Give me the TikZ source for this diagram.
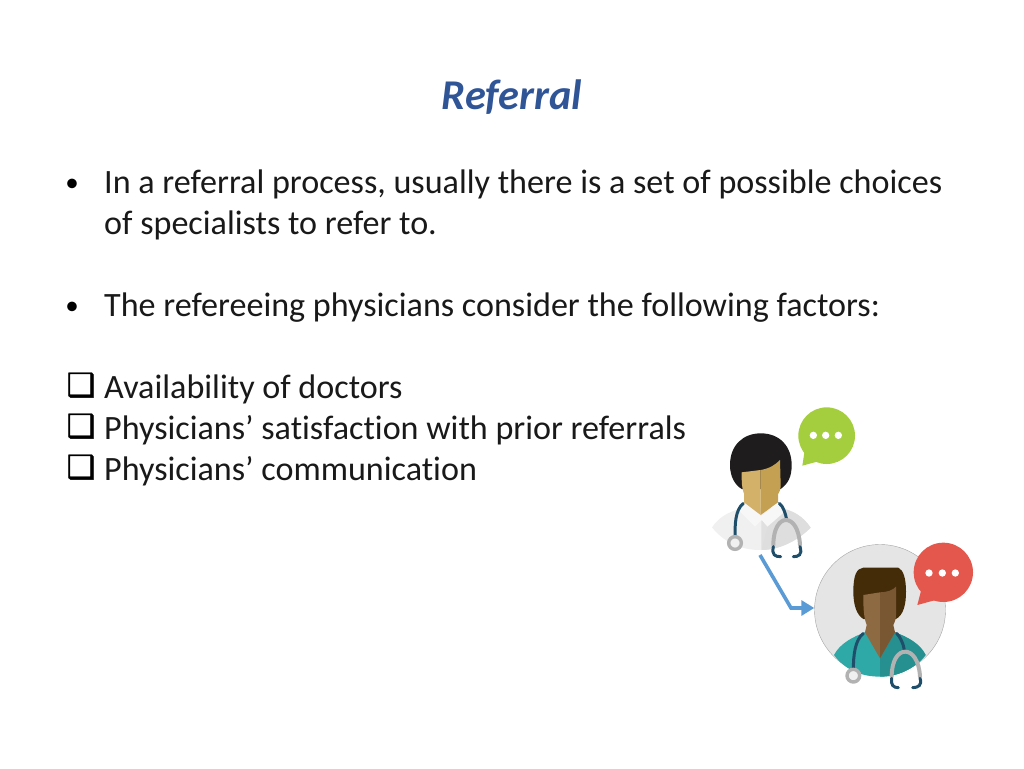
\documentclass[tikz,border=0pt]{standalone}
\usepackage{fontspec}
\setmainfont[Ligatures=NoCommon]{Carlito}
\newfontfamily\symfont[FakeBold=1.2]{DejaVu Sans}
\usetikzlibrary{positioning, arrows.meta}
\definecolor{titleblue}{HTML}{2F5597}
\definecolor{linkblue}{HTML}{5B9BD5}
\definecolor{tubeblue}{HTML}{1F4E6B}
\definecolor{bubblegreen}{HTML}{A4CE3E}
\definecolor{bubblered}{HTML}{E4574D}
\definecolor{hairdark}{HTML}{1E1C1D}
\definecolor{hairbrown}{HTML}{452C08}
\definecolor{skinlight}{HTML}{D3B169}
\definecolor{skinshade}{HTML}{C4A053}
\definecolor{skinbrown}{HTML}{8E6A42}
\definecolor{skinbrowndark}{HTML}{7A5733}
\definecolor{scrubs}{HTML}{2FA8A8}
\definecolor{scrubsdark}{HTML}{25908F}
\newcommand{\bodysize}{\fontsize{34.1}{41}\selectfont}
\tikzset{
	textline/.style={anchor=base west, inner sep=0pt, font=\bodysize, text=black!90},
	listmark/.style={anchor=base, inner sep=0pt},
	bubbledot/.style={fill=white, draw=none},
	tube/.style={draw=tubeblue, line width=3pt, line cap=round},
	metal/.style={draw=black!30, line width=4pt, line cap=round},
	ring/.style={draw=black!30, fill=black!6, line width=3.4pt}
}
\begin{document}
\begin{tikzpicture}[x=1pt, y=-1pt]
	\useasboundingbox (0,0) rectangle (1024,768);
	\node[anchor=base, inner sep=0pt, font=\fontsize{42.4}{48}\selectfont\bfseries\itshape, text=titleblue] (title) at (512,109) {Referral};
	\node[textline] (p1) at (104,193) {In a referral process, usually there is a set of possible choices};
	\node[textline] (p1b) at (104,234) {of specialists to refer to.};
	\node[textline] (p2) at (104,316) {The refereeing physicians consider the following factors:};
	\node[textline] (f1) at (104,398) {Availability of doctors};
	\node[textline] (f2) at (104,439) {Physicians’ satisfaction with prior referrals};
	\node[textline] (f3) at (104,480) {Physicians’ communication};
	\foreach \name/\ypos in {p1/193,p2/316}
		\node[listmark, font=\fontsize{27}{27}\selectfont] (b\name) at (72,\ypos-2) {•};
	\foreach \name/\ypos in {f1/398,f2/439,f3/480}
		\node[listmark, font=\symfont\fontsize{32}{32}\selectfont] (c\name) at (81,\ypos-2) {❑};
	% first doctor
	\begin{scope}[shift={(690,395)}, scale=1/3]
		\fill[black!6] (66,397) .. controls (90,360) and (130,345) .. (165,338) -- (265,338) .. controls (310,345) and (340,365) .. (362,398) .. controls (320,440) and (265,465) .. (210,465) .. controls (150,465) and (100,440) .. (66,397) -- cycle;
		\fill[black!13] (215,362) -- (265,338) .. controls (310,345) and (340,365) .. (362,398) .. controls (320,440) and (265,465) .. (215,465) -- cycle;
		\fill[black!3] (165,325) -- (215,362) -- (265,325) -- (290,345) -- (232,395) -- (215,375) -- (195,395) -- (145,345) -- cycle;
		\fill[black!12] (215,378) -- (232,395) -- (215,465) -- cycle;
		\draw[tube] (160,325) .. controls (135,345) and (135,390) .. (135,425);
		\draw[tube] (268,325) .. controls (280,335) and (287,355) .. (290,375);
		\draw[ring] (135,444) circle (19);
		\draw[metal] (250,450) .. controls (250,350) and (325,350) .. (330,450);
		\draw[tube] (250,455) .. controls (245,480) and (255,485) .. (272,485);
		\draw[tube] (330,455) .. controls (338,480) and (325,485) .. (310,485);
		\fill[hairdark] (120,210) .. controls (120,150) and (160,115) .. (212,115) .. controls (270,115) and (305,155) .. (305,210) .. controls (305,245) and (295,265) .. (272,282) -- (155,282) .. controls (135,270) and (120,245) .. (120,210) -- cycle;
		\fill[skinlight] (155,232) -- (212,225) -- (212,360) -- (162,322) -- (162,296) .. controls (155,280) and (155,260) .. (155,232) -- cycle;
		\fill[skinshade] (212,225) .. controls (240,220) and (255,210) .. (270,195) -- (272,270) .. controls (272,285) and (268,292) .. (264,298) -- (264,322) -- (212,360) -- cycle;
	\end{scope}
	% second doctor
	\node[circle, draw=black!35, fill=black!10, minimum size=131pt, inner sep=0pt] (disc) at (880,610) {};
	\begin{scope}[shift={(690,395)}, scale=1/3]
		\fill[scrubs] (432,780) .. controls (450,745) and (490,725) .. (525,712) -- (615,712) .. controls (650,725) and (690,745) .. (707,780) .. controls (670,825) and (620,845) .. (570,845) .. controls (515,845) and (465,825) .. (432,780) -- cycle;
		\fill[scrubsdark] (570,790) -- (615,712) .. controls (650,725) and (690,745) .. (707,780) .. controls (670,825) and (620,845) .. (570,845) -- cycle;
		\draw[tube] (520,715) .. controls (495,735) and (490,780) .. (490,825);
		\draw[tube] (620,715) .. controls (630,725) and (640,745) .. (643,765);
		\draw[ring] (490,842) circle (19);
		\draw[metal] (605,845) .. controls (605,745) and (685,745) .. (690,845);
		\draw[tube] (605,850) .. controls (602,870) and (610,878) .. (625,878);
		\draw[tube] (690,850) .. controls (697,870) and (685,878) .. (668,878);
		\fill[hairbrown] (490,590) .. controls (490,540) and (500,520) .. (520,518) -- (625,518) .. controls (640,525) and (648,550) .. (648,590) .. controls (648,630) and (640,660) .. (618,672) -- (520,672) .. controls (500,660) and (490,630) .. (490,590) -- cycle;
		\fill[skinbrown] (520,600) -- (570,592) -- (570,790) -- (525,712) -- (530,690) .. controls (520,665) and (520,630) .. (520,600) -- cycle;
		\fill[skinbrowndark] (570,592) .. controls (590,592) and (610,585) .. (618,575) -- (618,660) .. controls (618,675) and (612,685) .. (610,690) -- (615,712) -- (570,790) -- cycle;
	\end{scope}
	% speech bubbles
	\begin{scope}[shift={(690,395)}, scale=1/3]
		\fill[bubblegreen] (410,122) circle (85);
		\fill[bubblegreen] (345,160) -- (337,212) -- (400,195) -- cycle;
		\foreach \dotx in {370,407,445}
			\fill[bubbledot] (\dotx,121) circle (11);
		\fill[bubblered] (760,532) circle (89);
		\fill[bubblered] (695,580) -- (682,630) -- (755,610) -- cycle;
		\foreach \dotx in {717,757,796}
			\fill[bubbledot] (\dotx,534) circle (11);
	\end{scope}
	% connector
	\coordinate (from) at (760,555);
	\coordinate (bend) at (791,608);
	\draw[linkblue, line width=3.6pt, -{Triangle[length=13pt,width=15pt]}] (from) -- (bend) -- (bend -| disc.west);
\end{tikzpicture}
\end{document}
